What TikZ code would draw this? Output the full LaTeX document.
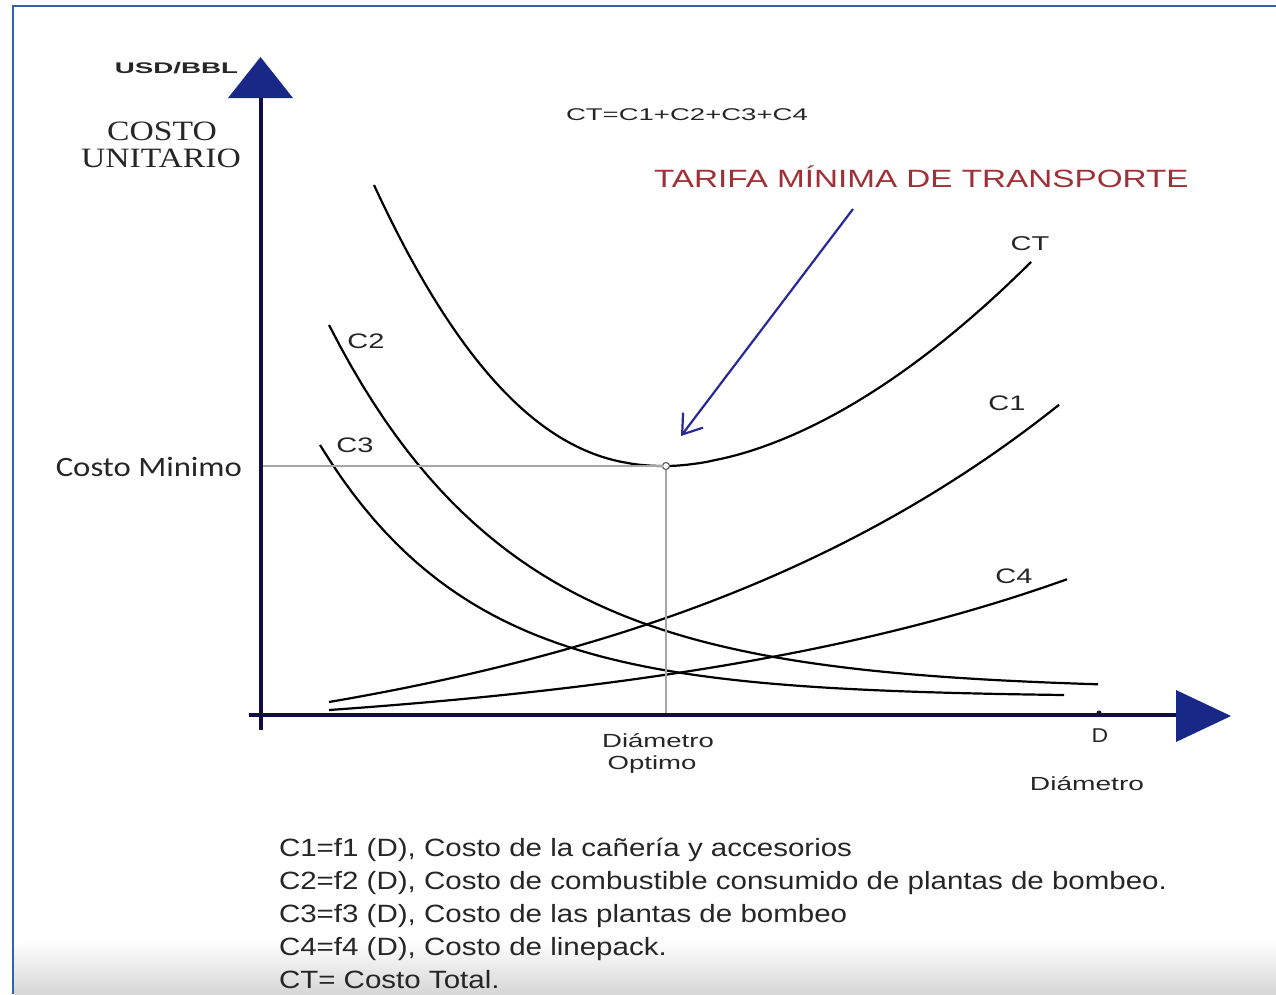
\documentclass[tikz,border=0pt]{standalone}
\usepackage{fontspec}
\setmainfont{Liberation Sans}
\newfontfamily\serifface{Liberation Serif}
\newfontfamily\calibriface{Carlito}
\usetikzlibrary{arrows.meta}
\definecolor{frameblue}{RGB}{55,95,175}
\definecolor{axisnavy}{RGB}{15,15,70}
\definecolor{tipnavy}{RGB}{25,40,135}
\definecolor{tarifared}{RGB}{160,48,55}
\definecolor{arrowblue}{RGB}{40,40,150}
\newcommand{\pxfont}[1]{\fontsize{#1}{#1}\selectfont}

\begin{document}
\begin{tikzpicture}[x=1pt, y=-1pt,
    every node/.style={inner sep=0pt, outer sep=0pt, text=black!85},
    xstretch/.style={xscale=#1, transform shape},
    curve/.style={line width=2.2, black, samples=70},
    guide/.style={line width=1.3, gray!70},
    axisline/.style={line width=4.5, axisnavy},
    axistip/.style={fill=tipnavy},
    curvelbl/.style={font=\pxfont{21}, anchor=base},
    xlbl/.style={font=\pxfont{19}, anchor=base},
    legend/.style={font=\pxfont{25}, xstretch=1.18, anchor=base west}]
    \useasboundingbox (0,0) rectangle (1276,994);

    % Background and frame
    \shade[top color=white, bottom color=gray!32] (14,940) rectangle (1276,994);
    \draw[frameblue, line width=2] (13,994) -- (13,6) -- (1276,6);

    % Axes
    \draw[axisline] (261,730) -- (261,96);
    \fill[axistip] (228,98) -- (293,98) -- (260.5,57) -- cycle;
    \draw[axisline] (249,715) -- (1178,715);
    \fill[axistip] (1176,690) -- (1231,716) -- (1176,742) -- cycle;
    \fill[axisnavy] (1099,713) circle (2.5);

    % Cost curves
    \draw[curve] plot[domain=374:666] (\x, {466-281*((666.01-\x)/292)^2.25});
    \draw[curve] plot[domain=666:1031] (\x, {466-204*((\x-665.99)/365)^1.78});
    \draw[curve] plot[domain=329:1098] (\x, {690-365*exp(-0.0054*(\x-329))});
    \draw[curve] plot[domain=320:1064] (\x, {697-252*exp(-0.0065*(\x-320))});
    \draw[curve] plot[domain=329:1059] (\x, {702-81.4*(exp(0.0021*(\x-329))-1)});
    \draw[curve] plot[domain=329:1067] (\x, {710-32.2*(exp(0.0022*(\x-329))-1)});

    % Optimum
    \coordinate (ymin) at (263,466);
    \coordinate (xopt) at (666,713);
    \node[circle, draw=gray!60!black, fill=white, line width=1, minimum size=7] (minpt) at (666,466) {};
    \draw[guide] (ymin) -- (minpt);
    \draw[guide] (minpt) -- (xopt);

    % Axis labels
    \node[font=\bfseries\pxfont{15.4}, xstretch=1.8, anchor=base east] (unit) at (238,73) {USD/BBL};
    \node[font=\serifface\pxfont{28}, xstretch=1.2, anchor=base] (costo) at (162,140) {COSTO};
    \node[font=\serifface\pxfont{28}, xstretch=1.2, anchor=base] (unitario) at (161,167) {UNITARIO};
    \node[font=\calibriface\pxfont{28}, xstretch=1.17, anchor=base east] (costomin) at (242,476) {Costo Minimo};
    \node[xlbl, xstretch=1.45] (dopt1) at (658,747) {Diámetro};
    \node[xlbl, xstretch=1.45] (dopt2) at (652,769) {Optimo};
    \node[xlbl, font=\pxfont{20}, xstretch=1.15] (dlbl) at (1100,742) {D};
    \node[xlbl, xstretch=1.48] (xname) at (1087,790) {Diámetro};

    % Curve labels
    \node[curvelbl, font=\pxfont{20}, xstretch=1.45] (ctlbl) at (1030,250) {CT};
    \node[curvelbl, xstretch=1.38] (c1lbl) at (1007,410) {C1};
    \node[curvelbl, xstretch=1.38] (c2lbl) at (366,348) {C2};
    \node[curvelbl, xstretch=1.38] (c3lbl) at (355,452) {C3};
    \node[curvelbl, xstretch=1.38] (c4lbl) at (1014,583) {C4};

    % Titles
    \node[font=\pxfont{17}, xstretch=1.62, anchor=base west] (formula) at (566,120) {CT=C1+C2+C3+C4};
    \node[font=\pxfont{25}, xstretch=1.33, anchor=base west, text=tarifared] (tarifa) at (654,187) {TARIFA MÍNIMA DE TRANSPORTE};
    \coordinate (tail) at (853,209);
    \coordinate (tip) at (681,436);
    \draw[line width=2.2, arrowblue, -{Straight Barb[length=18pt, width=25pt]}] (tail) -- (tip);

    % Legend
    \node[legend] (leg1) at (279,856) {C1=f1 (D), Costo de la cañería y accesorios};
    \node[legend] (leg2) at (279,889) {C2=f2 (D), Costo de combustible consumido de plantas de bombeo.};
    \node[legend] (leg3) at (279,922) {C3=f3 (D), Costo de las plantas de bombeo};
    \node[legend] (leg4) at (279,955) {C4=f4 (D), Costo de linepack.};
    \node[legend] (leg5) at (279,988) {CT= Costo Total.};
\end{tikzpicture}
\end{document}
